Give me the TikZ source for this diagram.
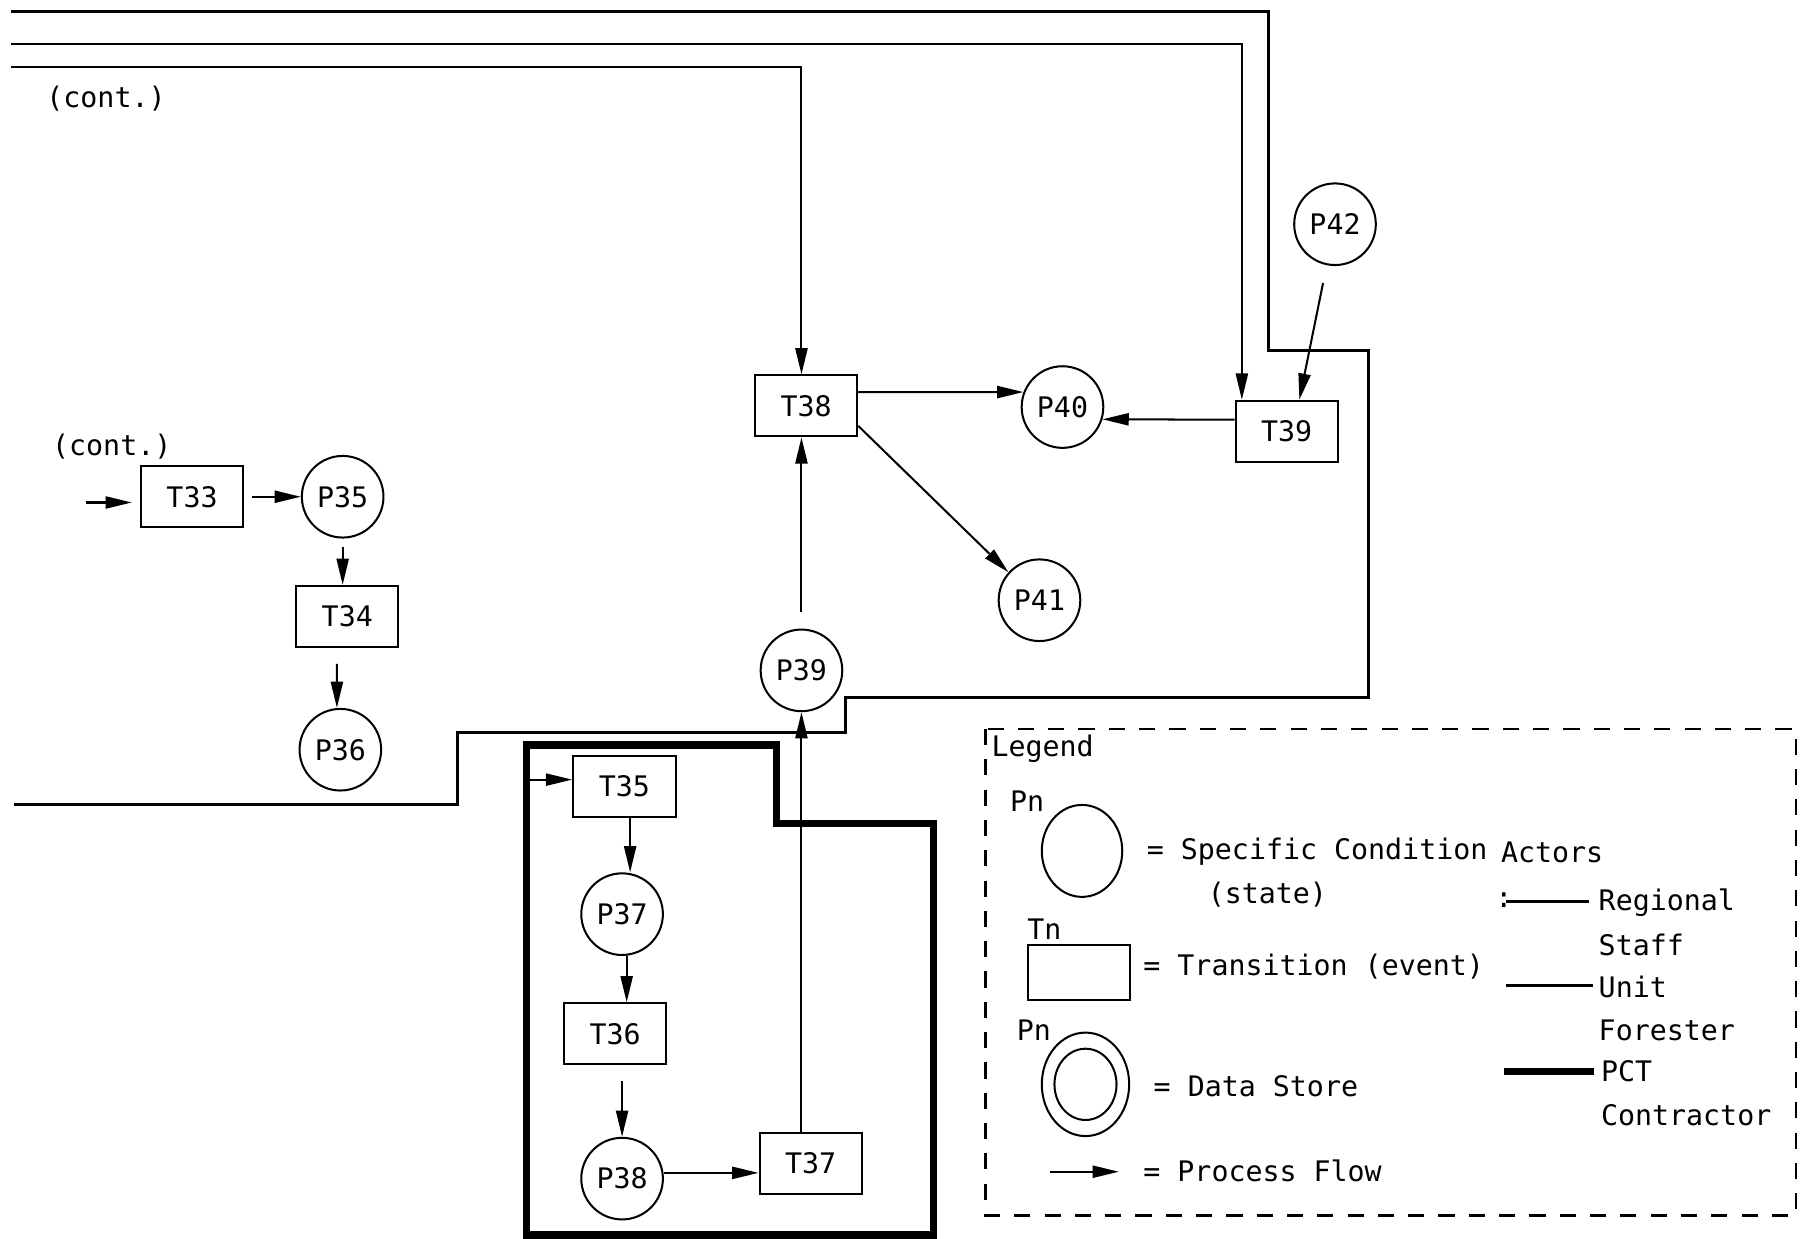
\documentclass[tikz,border=0pt]{standalone}
\usepackage{fontspec}
\setmainfont{DejaVu Sans Mono}
\usepackage{tikz}
\usetikzlibrary{arrows.meta}

\begin{document}
\begin{tikzpicture}[x=0.02cm, y=-0.02cm, >={Triangle[length=13pt,width=6pt]},
    every node/.style={font=\fontsize{14}{16}\selectfont},
    place/.style={draw, circle, line width=1pt, minimum size=1.42cm, inner sep=0pt},
    trans/.style={draw, rectangle, line width=1pt, minimum width=1.78cm, minimum height=1.06cm, inner sep=0pt},
    flow/.style={->, line width=1pt},
    staffline/.style={line width=1.1pt},
    unitline/.style={line width=1.5pt},
    pctline/.style={line width=3.6pt},
    lgtext/.style={anchor=west, inner sep=0pt}]
      \useasboundingbox (0,0) rectangle (1568,1077);

      % places and transitions
      \foreach \n/\x/\y in {35/298/432, 36/296/652, 37/541/795, 38/541/1025,
                            39/697/583, 40/924/354, 41/904/522, 42/1161/195} {
        \node[place] (P\n) at (\x,\y) {P\n};
      }
      \foreach \n/\x/\y in {33/167/432, 34/302/536, 35/543/684, 36/535/899,
                            37/705/1012, 38/701/353, 39/1119/375} {
        \node[trans] (T\n) at (\x,\y) {T\n};
      }
      \node[lgtext] (cont1) at (40,86) {(cont.)};
      \node[lgtext] (cont2) at (45,388) {(cont.)};

      % actor boundaries
      \draw[unitline] (10,10) -- (1103,10) -- (1103,305) -- (1190,305) -- (1190,607)
        -- (735,607) -- (735,637) -- (398,637) -- (398,700) -- (12,700);
      \draw[pctline] (458,648) -- (675,648) -- (675,716) -- (812,716) -- (812,1074)
        -- (458,1074) -- cycle;

      % process flow
      \coordinate (in33) at (75,437);
      \coordinate (in35) at (455,678);
      \coordinate (top38) at (10,58);
      \coordinate (top39) at (10,38);
      \draw[flow] (top38) -| ([xshift=-0.08cm]T38.north);
      \draw[flow] (top39) -| ([xshift=-0.78cm]T39.north);
      \draw[flow, shorten <=9pt] (P42) -- ([xshift=0.22cm]T39.north);
      \draw[flow] ([yshift=0.2cm]T39.west) -- (P40.-17);
      \draw[flow] ([yshift=0.24cm]T38.east) -- (P40.159);
      \draw[flow] ([yshift=0.2cm]T38.south east) -- (P41.138);
      \draw[flow, shorten <=8pt] (P39.north) -- (P39.north |- T38.south);
      \draw[flow] (P39.south |- T37.north) -- (P39.south);
      \draw[flow] ([yshift=0.1cm]P38.east) -- ([yshift=0.1cm]P38.east -| T37.west);
      \draw[flow, shorten <=8pt] (T36.south -| P38.north) -- (P38.north);
      \draw[flow] ([xshift=0.08cm]P37.south) -- ([xshift=0.08cm]P37.south |- T36.north);
      \draw[flow] ([xshift=0.1cm]T35.south) -- ([xshift=0.1cm]T35.south |- P37.north);
      \draw[flow] (in35) -- (in35 -| T35.west);
      \draw[flow, shorten >=4pt] (in33) -- (in33 -| T33.west);
      \draw[flow, shorten <=4pt] (T33.east) -- (P35.west);
      \draw[flow, shorten <=4pt] (P35.south) -- (P35.south |- T34.north);
      \draw[flow, shorten <=8pt] ([xshift=-0.18cm]T34.south) -- ([xshift=-0.06cm]P36.north);

      % legend
      \draw[line width=1.3pt, dash pattern=on 8pt off 7pt] (857,634) rectangle (1562,1057);
      \foreach \nm/\x/\y/\t in {lgtitle/862/651/Legend, lgpn/878/697/Pn,
          lgcond/997/741/= Specific Condition, lgstate/1050/778/(state),
          lgactors/1305/741/Actors, lgcolon/1300/783/:, lgreg/1390/785/Regional,
          lgstaff/1390/822/Staff, lgtn/893/808/Tn, lgtrans/994/841/= Transition (event),
          lgunit/1390/858/Unit, lgfor/1390/896/Forester, lgpn2/884/896/Pn,
          lgstore/1003/945/= Data Store, lgpct/1392/932/PCT,
          lgcontr/1392/970/Contractor, lgflow/994/1018/= Process Flow} {
        \node[lgtext] (\nm) at (\x,\y) {\t};
      }
      \draw[line width=1pt] (941,740) ellipse [x radius=0.7cm, y radius=0.8cm];
      \draw[line width=1pt] (894,822) rectangle (983,870);
      \draw[line width=1pt] (944,943) ellipse [x radius=0.76cm, y radius=0.9cm];
      \draw[line width=1pt] (944,943) ellipse [x radius=0.54cm, y radius=0.62cm];
      \draw[->, line width=1pt] (913,1019) -- (973,1019);
      \draw[staffline] (1310,784) -- (1382,784);
      \draw[unitline] (1310,857) -- (1385,857);
      \draw[pctline] (1308,932) -- (1386,932);
    \end{tikzpicture}
\end{document}
